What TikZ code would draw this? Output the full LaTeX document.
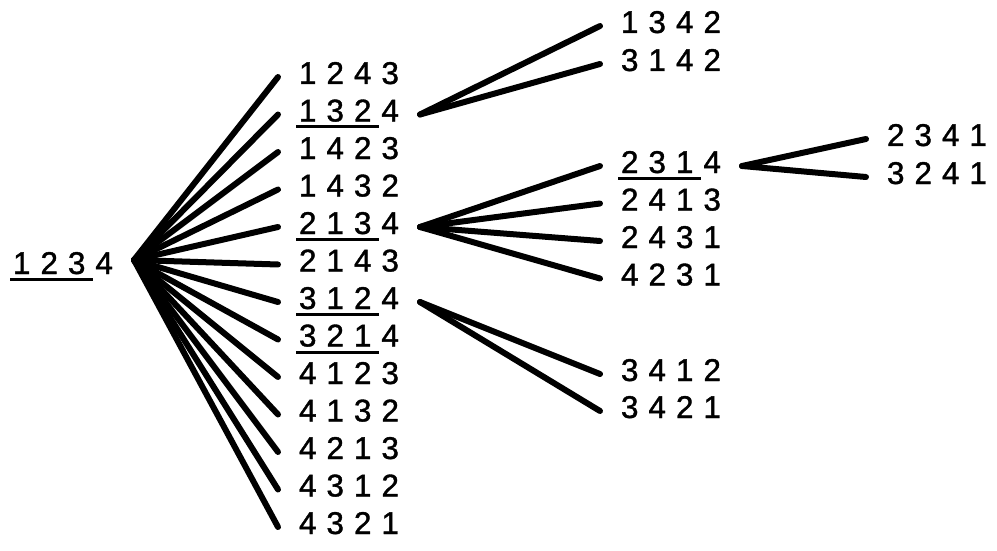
\documentclass[tikz,border=0pt]{standalone}
\usepackage{fontspec}
\setmainfont{Liberation Sans}[FakeBold=1.2]
\usetikzlibrary{calc}

% digits set on a fixed pitch, first three underlined if #2=1
\newcommand{\digs}[4]{\makebox[27.5pt]{#1}\makebox[27.5pt]{#2}\makebox[27.5pt]{#3}\makebox[27.5pt]{#4}}
\newcommand{\perm}[2]{\ifnum#2=1 \rlap{\hspace{2pt}\rule[-7pt]{83pt}{3pt}}\fi\expandafter\digs#1}

\begin{document}
\begin{tikzpicture}[x=1pt,y=-1pt,
    permnode/.style={inner sep=0pt, outer xsep=16pt, outer ysep=0pt, anchor=text,
      text height=22pt, text depth=8pt, font=\fontsize{31.5}{36}\selectfont},
    link/.style={line width=6pt, line cap=round}]
        \useasboundingbox (0,0) rectangle (997,551);
        % Wurzel
        \node[permnode] (p1234) at (8,274) {\perm{1234}{1}};
        % zweite Spalte
        \foreach \n/\u [count=\i] in {1243/0,1324/1,1423/0,1432/0,2134/1,2143/0,3124/1,3214/1,4123/0,4132/0,4213/0,4312/0,4321/0}
          \node[permnode] (p\n) at (294,{84+37.5*(\i-1)}) {\perm{\n}{\u}};
        % dritte Spalte
        \node[permnode] (p1342) at (616,33) {\perm{1342}{0}};
        \node[permnode] (p3142) at (616,71) {\perm{3142}{0}};
        \node[permnode] (p2314) at (616,173) {\perm{2314}{1}};
        \node[permnode] (p2413) at (616,210.5) {\perm{2413}{0}};
        \node[permnode] (p2431) at (616,248) {\perm{2431}{0}};
        \node[permnode] (p4231) at (616,285.5) {\perm{4231}{0}};
        \node[permnode] (p3412) at (616,381) {\perm{3412}{0}};
        \node[permnode] (p3421) at (616,418) {\perm{3421}{0}};
        % vierte Spalte
        \node[permnode] (p2341) at (882,146) {\perm{2341}{0}};
        \node[permnode] (p3241) at (882,184) {\perm{3241}{0}};
        % Verbindungen
        \foreach \n in {1243,1324,1423,1432,2134,2143,3124,3214,4123,4132,4213,4312,4321}
          \draw[link] ([yshift=7pt]p1234.east) -- (p\n.west);
        \foreach \n in {1342,3142}
          \draw[link] (p1324.east) -- (p\n.west);
        \foreach \n in {2314,2413,2431,4231}
          \draw[link] (p2134.east) -- (p\n.west);
        \foreach \n in {3412,3421}
          \draw[link] (p3124.east) -- (p\n.west);
        \foreach \n in {2341,3241}
          \draw[link] (p2314.east) -- (p\n.west);
      \end{tikzpicture}
\end{document}
